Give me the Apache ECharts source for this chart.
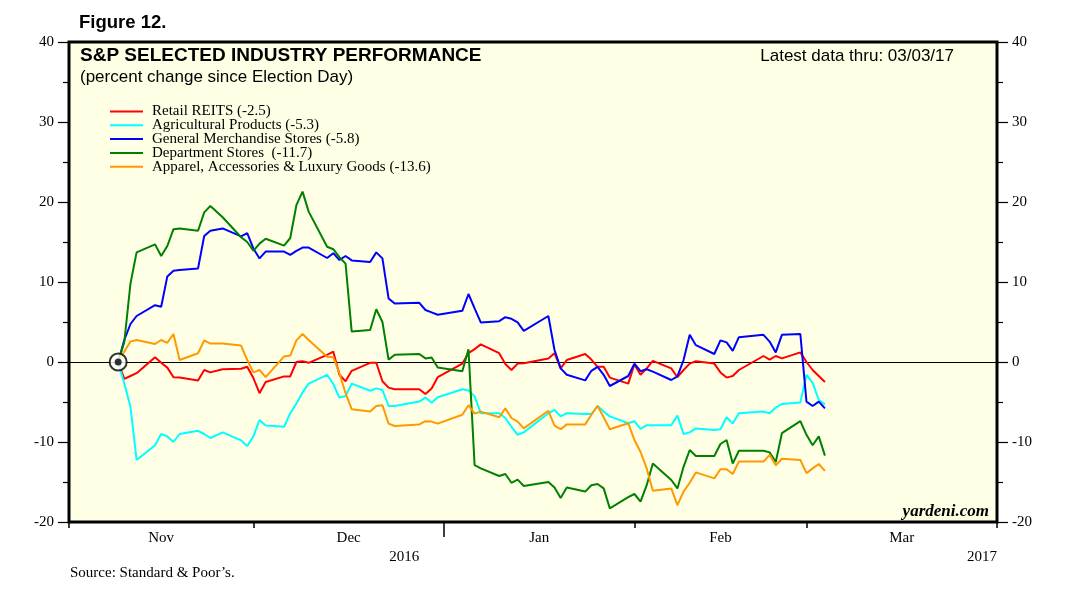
<!DOCTYPE html>
<html><head><meta charset="utf-8">
<script src="https://cdn.jsdelivr.net/npm/echarts@6/dist/echarts.min.js"></script>
<style>html,body{margin:0;padding:0;background:#fff}#c{width:1071px;height:615px}</style>
</head><body><div id="c"></div>
<script>
// ---- data ----
const dates = [
'2016-11-08','2016-11-09','2016-11-10','2016-11-11','2016-11-14','2016-11-15','2016-11-16','2016-11-17','2016-11-18','2016-11-21','2016-11-22','2016-11-23','2016-11-25','2016-11-28','2016-11-29','2016-11-30',
'2016-12-01','2016-12-02','2016-12-05','2016-12-06','2016-12-07','2016-12-08','2016-12-09','2016-12-12','2016-12-13','2016-12-14','2016-12-15','2016-12-16','2016-12-19','2016-12-20','2016-12-21','2016-12-22','2016-12-23','2016-12-27','2016-12-28','2016-12-29','2016-12-30',
'2017-01-03','2017-01-04','2017-01-05','2017-01-06','2017-01-09','2017-01-10','2017-01-11','2017-01-12','2017-01-13','2017-01-17','2017-01-18','2017-01-19','2017-01-20','2017-01-23','2017-01-24','2017-01-25','2017-01-26','2017-01-27','2017-01-30','2017-01-31',
'2017-02-01','2017-02-02','2017-02-03','2017-02-06','2017-02-07','2017-02-08','2017-02-09','2017-02-10','2017-02-13','2017-02-14','2017-02-15','2017-02-16','2017-02-17','2017-02-21','2017-02-22','2017-02-23','2017-02-24','2017-02-27','2017-02-28',
'2017-03-01','2017-03-02','2017-03-03'
];
const retailREITS = [
0,-2.1,-1.75,-1.4,0.6,-0.1,-0.7,-1.9,-1.95,-2.3,-1.0,-1.3,-0.9,-0.85,-0.6,-2.0,
-3.9,-2.5,-1.8,-1.8,0.0,0.1,-0.1,0.9,1.3,-1.6,-2.4,-1.1,-0.1,-0.1,-2.4,-3.2,-3.4,-3.4,-4.0,-3.3,-1.9,
-0.2,1.1,1.6,2.2,1.1,-0.25,-1.0,-0.2,-0.15,0.45,1.1,-0.8,0.25,1.0,0.3,-0.6,-0.6,-1.95,-2.7,-0.3,
-1.6,-0.8,0.15,-0.8,-1.9,-1.0,-0.2,0.1,-0.2,-1.3,-1.95,-1.75,-1.0,0.75,0.3,0.75,0.45,1.2,0.0,
-1.0,-1.75,-2.5
];
const agriculturalProducts = [
0,-2.7,-5.6,-12.25,-10.4,-9.0,-9.3,-10.0,-9.0,-8.6,-9.0,-9.5,-8.8,-9.8,-10.5,-9.3,
-7.25,-7.95,-8.1,-6.4,-5.2,-3.8,-2.7,-1.6,-2.75,-4.45,-4.25,-2.7,-3.6,-3.3,-3.5,-5.5,-5.5,-4.95,-4.45,-5.1,-4.4,
-3.4,-3.55,-4.3,-6.4,-6.4,-7.0,-8.1,-9.1,-8.8,-6.4,-6.0,-6.8,-6.4,-6.5,-6.5,-5.5,-6.2,-6.8,-7.65,-7.4,
-8.35,-7.9,-7.9,-7.9,-6.7,-9.0,-8.8,-8.3,-8.5,-8.4,-6.9,-7.7,-6.4,-6.2,-6.4,-5.7,-5.25,-5.05,-1.6,
-2.6,-4.75,-5.3
];
const generalMerchandise = [
0,2.75,4.75,5.75,7.1,6.9,10.7,11.4,11.5,11.7,15.75,16.4,16.7,15.7,16.1,14.2,
12.95,13.8,13.8,13.4,13.9,14.3,14.3,13.0,13.6,12.75,13.25,12.7,12.5,13.7,12.95,7.95,7.3,7.4,6.5,6.2,5.9,
6.4,8.5,6.7,4.95,5.1,5.6,5.4,4.95,3.9,5.75,1.5,-0.8,-1.6,-2.3,-1.1,-0.6,-1.6,-3.0,-1.75,-0.2,
-1.15,-0.9,-1.2,-2.25,-1.8,0.25,3.4,2.1,1.0,2.7,2.45,1.4,3.1,3.4,2.55,1.2,3.4,3.5,-4.95,
-5.5,-4.95,-5.8
];
const departmentStores = [
0,2.5,9.8,13.7,14.7,13.25,14.5,16.6,16.7,16.4,18.7,19.5,18.1,15.6,15.0,13.9,
14.8,15.4,14.55,15.5,19.6,21.3,18.8,14.4,14.1,13.1,12.3,3.8,4.0,6.6,5.0,0.3,0.9,1.0,0.45,0.55,-0.7,
-1.15,1.6,-12.9,-13.3,-14.25,-14.0,-15.1,-14.7,-15.5,-15.0,-15.7,-17.0,-15.7,-16.2,-15.4,-15.25,-15.8,-18.3,-16.9,-16.5,
-17.45,-15.4,-12.7,-14.75,-15.8,-13.1,-11.0,-11.75,-11.75,-10.25,-9.75,-12.7,-11.1,-11.1,-11.3,-12.5,-8.9,-7.4,-9.1,
-10.4,-9.3,-11.7
];
const apparelLuxury = [
0,1.3,2.55,2.75,2.25,2.75,2.4,3.5,0.25,1.1,2.7,2.3,2.3,2.05,0.25,-1.3,
-1.0,-1.9,0.7,0.8,2.7,3.5,2.75,0.67,0.6,-1.4,-3.9,-5.9,-6.2,-5.5,-5.4,-7.7,-8.0,-7.8,-7.4,-7.45,-7.7,
-6.6,-5.4,-6.45,-6.2,-6.9,-5.8,-7.0,-7.45,-8.3,-6.1,-7.95,-8.4,-7.8,-7.8,-6.6,-5.5,-6.9,-8.4,-7.65,-9.75,
-11.25,-13.3,-16.1,-15.8,-17.9,-16.2,-15.1,-13.8,-14.55,-13.4,-13.4,-14.0,-12.45,-12.45,-11.6,-12.9,-12.1,-12.25,-13.9,
-13.3,-12.75,-13.6
];
const seriesNames = ['Retail REITS (-2.5)','Agricultural Products (-5.3)','General Merchandise Stores (-5.8)','Department Stores  (-11.7)','Apparel, Accessories & Luxury Goods (-13.6)'];
const seriesColors = ['#ff0000','#00ffff','#0000ff','#008000','#ff9900'];
const monthLabels = ['Nov','Dec','Jan','Feb','Mar'];
const monthStarts = ['2016-11-01','2016-12-01','2017-01-01','2017-02-01','2017-03-01','2017-04-01'];
const yearLabels = ['2016','2017'];
const yearLabelAt = ['2016-12-28','2017-04-01'];
const yearBreak = '2017-01-01';
const electionDay = '2016-11-08';
const yTicks = {min:-20, max:40, interval:10};

// ---- helpers ----
const T0 = Date.UTC(2016,10,1);
function dayNum(s){const p=s.split('-').map(Number);return (Date.UTC(p[0],p[1]-1,p[2])-T0)/86400000;}
function closeX(s){return dayNum(s)+1;} // plotted at close of day
const tickVals = monthStarts.map(dayNum);
const midVals = monthLabels.map((m,i)=>(tickVals[i]+tickVals[i+1])/2);
const yearVals = yearLabelAt.map(dayNum);
const xMin = tickVals[0], xMax = tickVals[tickVals.length-1];
const allSeries = [retailREITS, agriculturalProducts, generalMerchandise, departmentStores, apparelLuxury];

const serif = 'Liberation Serif, Times New Roman, serif';
const sans = 'Liberation Sans, Arial, Helvetica, sans-serif';

const chart = echarts.init(document.getElementById('c'), null, {renderer:'canvas'});
const lineSeries = allSeries.map((arr,i)=>({
  name: seriesNames[i], type:'line', xAxisIndex:0, yAxisIndex:0,
  data: arr.map((v,j)=>[closeX(dates[j]), v]),
  symbol:'none', lineStyle:{color:seriesColors[i], width:2}, itemStyle:{color:seriesColors[i]},
  z: 3, animation:false
}));
lineSeries[0].markLine = {silent:true, symbol:'none', label:{show:false}, lineStyle:{color:'#000', width:1.2, type:'solid'}, data:[{yAxis:0}], z:2, animation:false};

function yAxisOf(pos){
  return {
    type:'value', position:pos, min:yTicks.min, max:yTicks.max, interval:yTicks.interval,
    axisLine:{show:false, onZero:false}, splitLine:{show:false},
    axisTick:{show:true, inside:false, length:11, lineStyle:{color:'#000', width:1.2}},
    minorTick:{show:true, splitNumber:2, length:6, lineStyle:{color:'#000', width:1.2}},
    axisLabel:{fontFamily:serif, fontSize:15, color:'#000', margin:15}
  };
}

chart.setOption({
  animation:false,
  backgroundColor:'#ffffff',
  grid:{left:69, right:74, top:42, bottom:93, show:true, backgroundColor:'#ffffe6', borderColor:'#000', borderWidth:3, z:0},
  legend:{
    data: seriesNames, orient:'vertical', left:110, top:104, padding:0, itemGap:-1.2, itemWidth:33, itemHeight:2,
    icon:'rect', selectedMode:false,
    textStyle:{fontFamily:serif, fontSize:15, color:'#000', lineHeight:15, padding:[0,0,0,4]}
  },
  xAxis:[
    {type:'value', min:xMin, max:xMax, position:'bottom',
     axisLine:{show:false, onZero:false}, splitLine:{show:false},
     axisTick:{show:true, customValues:tickVals, length:6, lineStyle:{color:'#000', width:1.5}},
     axisLabel:{show:true, customValues:midVals, margin:9, fontFamily:serif, fontSize:15, color:'#000',
       formatter:function(v){let k=0,b=1e9;midVals.forEach((m,i)=>{if(Math.abs(m-v)<b){b=Math.abs(m-v);k=i;}});return monthLabels[k];}}
    },
    {type:'value', min:xMin, max:xMax, position:'bottom',
     axisLine:{show:false, onZero:false}, splitLine:{show:false},
     axisTick:{show:true, customValues:[dayNum(yearBreak)], length:15, lineStyle:{color:'#000', width:1.5}},
     axisLabel:{show:true, customValues:yearVals, margin:28, align:'right', fontFamily:serif, fontSize:15, color:'#000',
       formatter:function(v){let k=0,b=1e9;yearVals.forEach((m,i)=>{if(Math.abs(m-v)<b){b=Math.abs(m-v);k=i;}});return yearLabels[k];}}
    }
  ],
  yAxis:[ yAxisOf('left'), yAxisOf('right') ],
  series: lineSeries.concat([
    {type:'scatter', xAxisIndex:0, yAxisIndex:0, data:[[closeX(electionDay),0]], symbol:'circle', symbolSize:17,
     itemStyle:{color:'#ffffff', borderColor:'#000', borderWidth:2}, z:10, silent:true, animation:false},
    {type:'scatter', xAxisIndex:0, yAxisIndex:0, data:[[closeX(electionDay),0]], symbol:'circle', symbolSize:7,
     itemStyle:{color:'#000'}, z:11, silent:true, animation:false}
  ]),
  graphic:[
    {type:'text', x:79, y:23, style:{text:'Figure 12.', font:'bold 18.5px '+sans, fill:'#000', verticalAlign:'middle'}},
    {type:'text', x:80, y:56, z:20, style:{text:'S&P SELECTED INDUSTRY PERFORMANCE', font:'bold 19px '+sans, fill:'#000', verticalAlign:'middle'}},
    {type:'text', x:80, y:77, z:20, style:{text:'(percent change since Election Day)', font:'17px '+sans, fill:'#000', verticalAlign:'middle'}},
    {type:'text', x:954, y:56, z:20, style:{text:'Latest data thru: 03/03/17', font:'17px '+sans, fill:'#000', align:'right', verticalAlign:'middle'}},
    {type:'text', x:989, y:512, z:20, style:{text:'yardeni.com', font:'italic bold 17px '+serif, fill:'#000', align:'right', verticalAlign:'middle'}},
    {type:'text', x:70, y:573, style:{text:'Source: Standard & Poor\u2019s.', font:'15px '+serif, fill:'#000', verticalAlign:'middle'}}
  ]
});
</script>
</body></html>
